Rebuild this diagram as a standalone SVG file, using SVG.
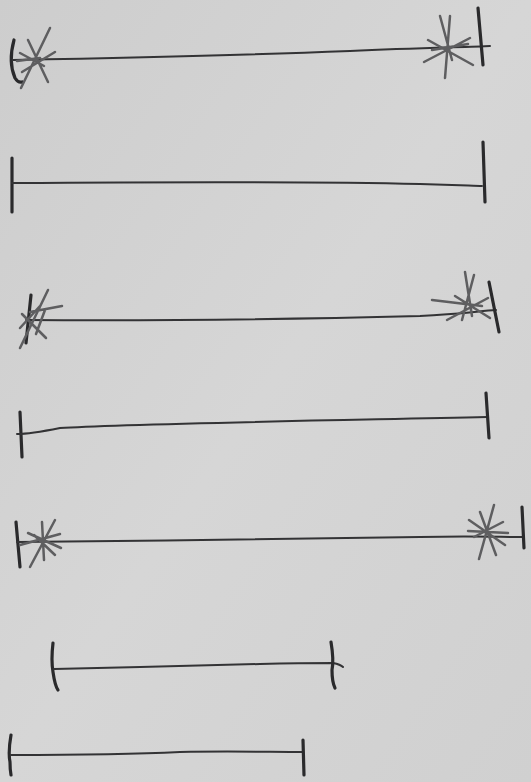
<svg xmlns="http://www.w3.org/2000/svg" width="531" height="782" viewBox="0 0 531 782">
<defs>
<linearGradient id="paper" x1="0" y1="0" x2="1" y2="1">
<stop offset="0" stop-color="#cdcdcd"/>
<stop offset="0.5" stop-color="#d6d6d6"/>
<stop offset="1" stop-color="#d0d0d0"/>
</linearGradient>
</defs>
<style>
.ln{fill:none;stroke:#333335;stroke-width:2;stroke-linecap:round;stroke-linejoin:round}
.tk{fill:none;stroke:#2a2a2c;stroke-width:3.2;stroke-linecap:round}
.st{fill:none;stroke:#5e5e60;stroke-width:2.5;stroke-linecap:round}
</style>
<rect width="531" height="782" fill="url(#paper)"/>
<g id="connectors">
<g id="line1">
<path class="tk" d="M14 40 Q8 62 15 78 Q18 83 22 82"/>
<path class="ln" d="M13 60 C120 58 250 55 350 51 C420 48 470 47 490 46"/>
<path class="st" d="M50 28 L21 88 M28 40 L48 82 M17 61 L40 58 M55 52 L22 72 M20 53 L44 66"/>
<path class="tk" d="M478 8 L483 65"/>
<path class="st" d="M440 16 L452 60 M450 16 L445 78 M424 62 L470 38 M428 40 L473 65 M432 50 L468 44"/>
</g>
<g id="line2">
<path class="tk" d="M12 158 L12 212"/>
<path class="ln" d="M12 183 C150 182 300 181 420 184 C460 185 475 186 482 186"/>
<path class="tk" d="M483 142 L485 202"/>
</g>
<g id="line3">
<path class="tk" d="M31 295 L26 343"/>
<path class="ln" d="M26 320 C150 321 300 319 420 316 C460 314 480 311 496 310"/>
<path class="st" d="M48 290 L20 348 M22 314 L46 338 M30 312 L62 306 M45 310 L36 334 M40 306 L20 328"/>
<path class="tk" d="M489 282 L499 332"/>
<path class="st" d="M465 272 L472 316 M474 275 L462 320 M432 300 L482 306 M447 320 L488 298 M455 296 L490 318"/>
</g>
<g id="line4">
<path class="tk" d="M20 412 L22 457"/>
<path class="ln" d="M17 434 C30 434 40 432 60 428 C120 424 300 421 487 417"/>
<path class="tk" d="M486 393 L489 438"/>
</g>
<g id="line5">
<path class="tk" d="M16 522 L20 567"/>
<path class="ln" d="M17 542 C150 541 300 539 420 537 C470 536 500 537 523 537"/>
<path class="st" d="M55 520 L30 567 M42 522 L44 560 M28 533 L61 548 M20 545 L60 534 M34 535 L55 555"/>
<path class="tk" d="M522 507 L524 548"/>
<path class="st" d="M494 505 L479 559 M469 520 L505 545 M474 537 L503 522 M480 512 L496 555 M468 531 L508 533"/>
</g>
<g id="line6">
<path class="tk" d="M53 643 Q51 660 53 672 Q55 686 58 690"/>
<path class="ln" d="M54 669 C120 668 200 665 260 664 C300 663 325 663 333 663 C338 664 342 666 343 667"/>
<path class="tk" d="M331 642 Q334 660 332 670 Q332 682 335 688"/>
</g>
<g id="line7">
<path class="tk" d="M11 735 Q8 752 10 762 Q10 770 11 775"/>
<path class="ln" d="M11 755 C80 755 140 754 180 752 C230 751 270 752 303 752"/>
<path class="tk" d="M303 740 L304 775"/>
</g>
</g>
</svg>
